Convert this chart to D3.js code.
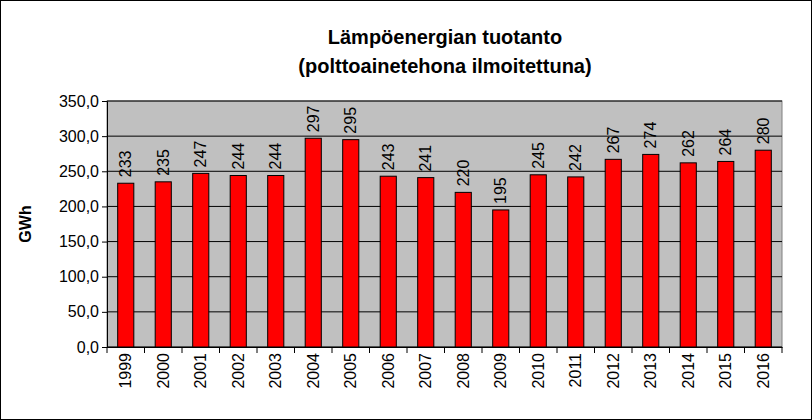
<!DOCTYPE html><html><head><meta charset="utf-8"><script src="https://d3js.org/d3.v7.min.js"></script>
<style>body{margin:0;background:#fff}</style></head><body><svg id="c" width="812" height="420"></svg>
<script>
const years=["1999","2000","2001","2002","2003","2004","2005","2006","2007","2008","2009","2010","2011","2012","2013","2014","2015","2016"];
const values=[233,235,247,244,244,297,295,243,241,220,195,245,242,267,274,262,264,280];
const ticks=[0,50,100,150,200,250,300,350];
const svg=d3.select("#c");
svg.append("rect").attr("x",0.5).attr("y",0.5).attr("width",811).attr("height",419).attr("fill","#fff").attr("stroke","#000");
const L=107,R=782,T=101,B=347;
const x=d3.scaleBand().domain(years).range([L,R]).paddingInner(0.57).paddingOuter(0.285);
const y=d3.scaleLinear().domain([0,350]).range([B,T]);
svg.append("rect").attr("x",L).attr("y",T).attr("width",R-L).attr("height",B-T).attr("fill","#C0C0C0").attr("stroke","#808080");
svg.append("g").selectAll("line").data(ticks).join("line").attr("x1",L).attr("x2",R).attr("y1",d=>y(d)).attr("y2",d=>y(d)).attr("stroke","#000");
const ya=svg.append("g").attr("transform",`translate(${L},0)`).call(d3.axisLeft(y).tickValues(ticks).tickSize(5).tickFormat(d=>d3.format(".1f")(d).replace(".",",")));
ya.select(".domain").attr("stroke","#000");
ya.selectAll("text").attr("font-family","Arial, Liberation Sans").attr("font-size",16).attr("fill","#000");
const xa=svg.append("g").attr("transform",`translate(0,${B})`).call(d3.axisBottom(x).tickSize(0).tickSizeOuter(0));
xa.select(".domain").attr("stroke","#000");
xa.selectAll("text").attr("font-family","Arial, Liberation Sans").attr("font-size",16).attr("fill","#000")
 .attr("transform","rotate(-90)").attr("text-anchor","end").attr("x",-6).attr("y",0).attr("dy","0.35em");
svg.append("g").selectAll("line").data(d3.range(years.length+1)).join("line")
 .attr("x1",i=>L+i*(R-L)/years.length).attr("x2",i=>L+i*(R-L)/years.length).attr("y1",B).attr("y2",B+6).attr("stroke","#000");
svg.append("g").selectAll("rect").data(values).join("rect").attr("x",(d,i)=>x(years[i])).attr("width",x.bandwidth())
 .attr("y",d=>y(d)).attr("height",d=>B-y(d)).attr("fill","#FF0000").attr("stroke","#000");
svg.append("g").selectAll("text").data(values).join("text")
 .attr("transform",(d,i)=>`translate(${x(years[i])+x.bandwidth()/2},${y(d)-6}) rotate(-90)`)
 .attr("dy","0.35em").attr("font-family","Arial, Liberation Sans").attr("font-size",16).text(d=>d);
svg.append("text").attr("x",445).attr("y",44).attr("text-anchor","middle").attr("font-family","Arial, Liberation Sans").attr("font-weight","bold").attr("font-size",20).text("Lämpöenergian tuotanto");
svg.append("text").attr("x",445).attr("y",73).attr("text-anchor","middle").attr("font-family","Arial, Liberation Sans").attr("font-weight","bold").attr("font-size",20).text("(polttoainetehona ilmoitettuna)");
svg.append("text").attr("transform","translate(25,224) rotate(-90)").attr("text-anchor","middle").attr("dy","0.35em").attr("font-family","Arial, Liberation Sans").attr("font-weight","bold").attr("font-size",16).text("GWh");
</script></body></html>
